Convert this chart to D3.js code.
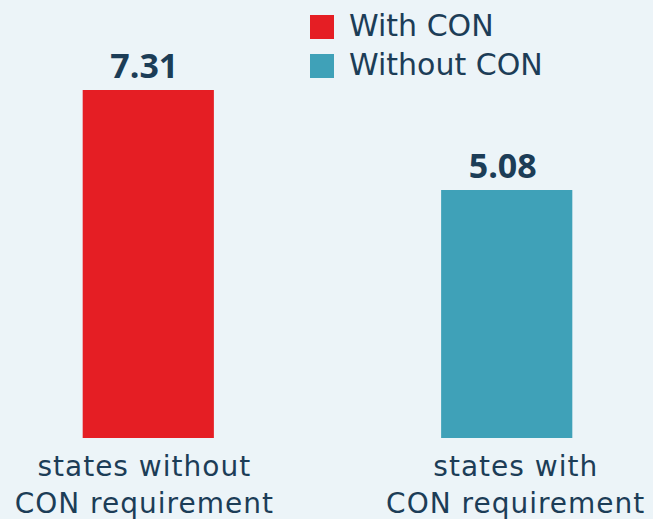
<!DOCTYPE html>
<html>
<head>
<meta charset="utf-8">
<script src="https://cdn.jsdelivr.net/npm/d3@7"></script>
<style>
  html, body { margin: 0; padding: 0; background: #ecf4f8; }
  svg { display: block; }
  text { font-family: "DejaVu Sans", sans-serif; fill: #1c3d57; }
</style>
</head>
<body>
<svg id="viz"></svg>
<script>
/* data */
var categories = ["states without\nCON requirement", "states with\nCON requirement"];
var values = [7.31, 5.08];
var valueLabels = ["7.31", "5.08"];
var seriesNames = ["With CON", "Without CON"];
var colors = ["#e51e24", "#3fa1b8"];

/* create svg */
var width = 653,
	height = 519;

var svg = d3.select('#viz')
		.attr('width', width)
		.attr('height', height);

var x = d3.scaleBand()
	.domain(categories)
	.range([11, 644])
	.paddingInner(0.634)
	.paddingOuter(0.2);

// the source chart's baseline sits a little below zero
var y = d3.scaleLinear()
	.domain([-0.45, 7.31])
	.range([438, 90]);

var base = y.domain()[0];

/* bars */
svg.selectAll(".bar")
	.data(values)
	.enter().append("rect")
	.attr("class", "bar")
	.attr("x", function(d, i){ return x(categories[i]); })
	.attr("y", function(d){ return y(d); })
	.attr("width", x.bandwidth())
	.attr("height", function(d){ return y(base) - y(d); })
	.attr("fill", function(d, i){ return colors[i]; });

/* value labels */
svg.selectAll(".value")
	.data(values)
	.enter().append("text")
	.attr("class", "value")
	.attr("x", function(d, i){ return x(categories[i]) + x.bandwidth() / 2 - 4; })
	.attr("y", function(d){ return y(d) - 12; })
	.attr("text-anchor", "middle")
	.style("font-family", "'Open Sans', sans-serif")
	.style("font-size", "34px")
	.style("font-weight", "700")
	.text(function(d, i){ return valueLabels[i]; });

/* category labels */
var cat = svg.selectAll(".cat")
	.data(categories)
	.enter().append("text")
	.attr("class", "cat")
	.attr("text-anchor", "middle")
	.style("font-size", "28px")
	.style("letter-spacing", "1px")
	.attr("transform", function(d, i){
		return "translate(" + (x(d) + x.bandwidth() / 2 + (i ? 9 : -4)) + ",476)";
	});

cat.selectAll("tspan")
	.data(function(d){ return d.split("\n"); })
	.enter().append("tspan")
	.attr("x", 0)
	.attr("dy", function(d, i){ return i ? 37 : 0; })
	.text(function(d){ return d; });

/* legend */
var legend = svg.selectAll(".legend")
	.data(seriesNames)
	.enter().append("g")
	.attr("class", "legend")
	.attr("transform", function(d, i){ return "translate(310," + (15 + i * 39) + ")"; });

legend.append("rect")
	.attr("width", 24)
	.attr("height", 24)
	.attr("fill", function(d, i){ return colors[i]; });

legend.append("text")
	.attr("x", 39)
	.attr("y", 21)
	.style("font-size", "30px")
	.text(function(d){ return d; });
</script>
</body>
</html>
